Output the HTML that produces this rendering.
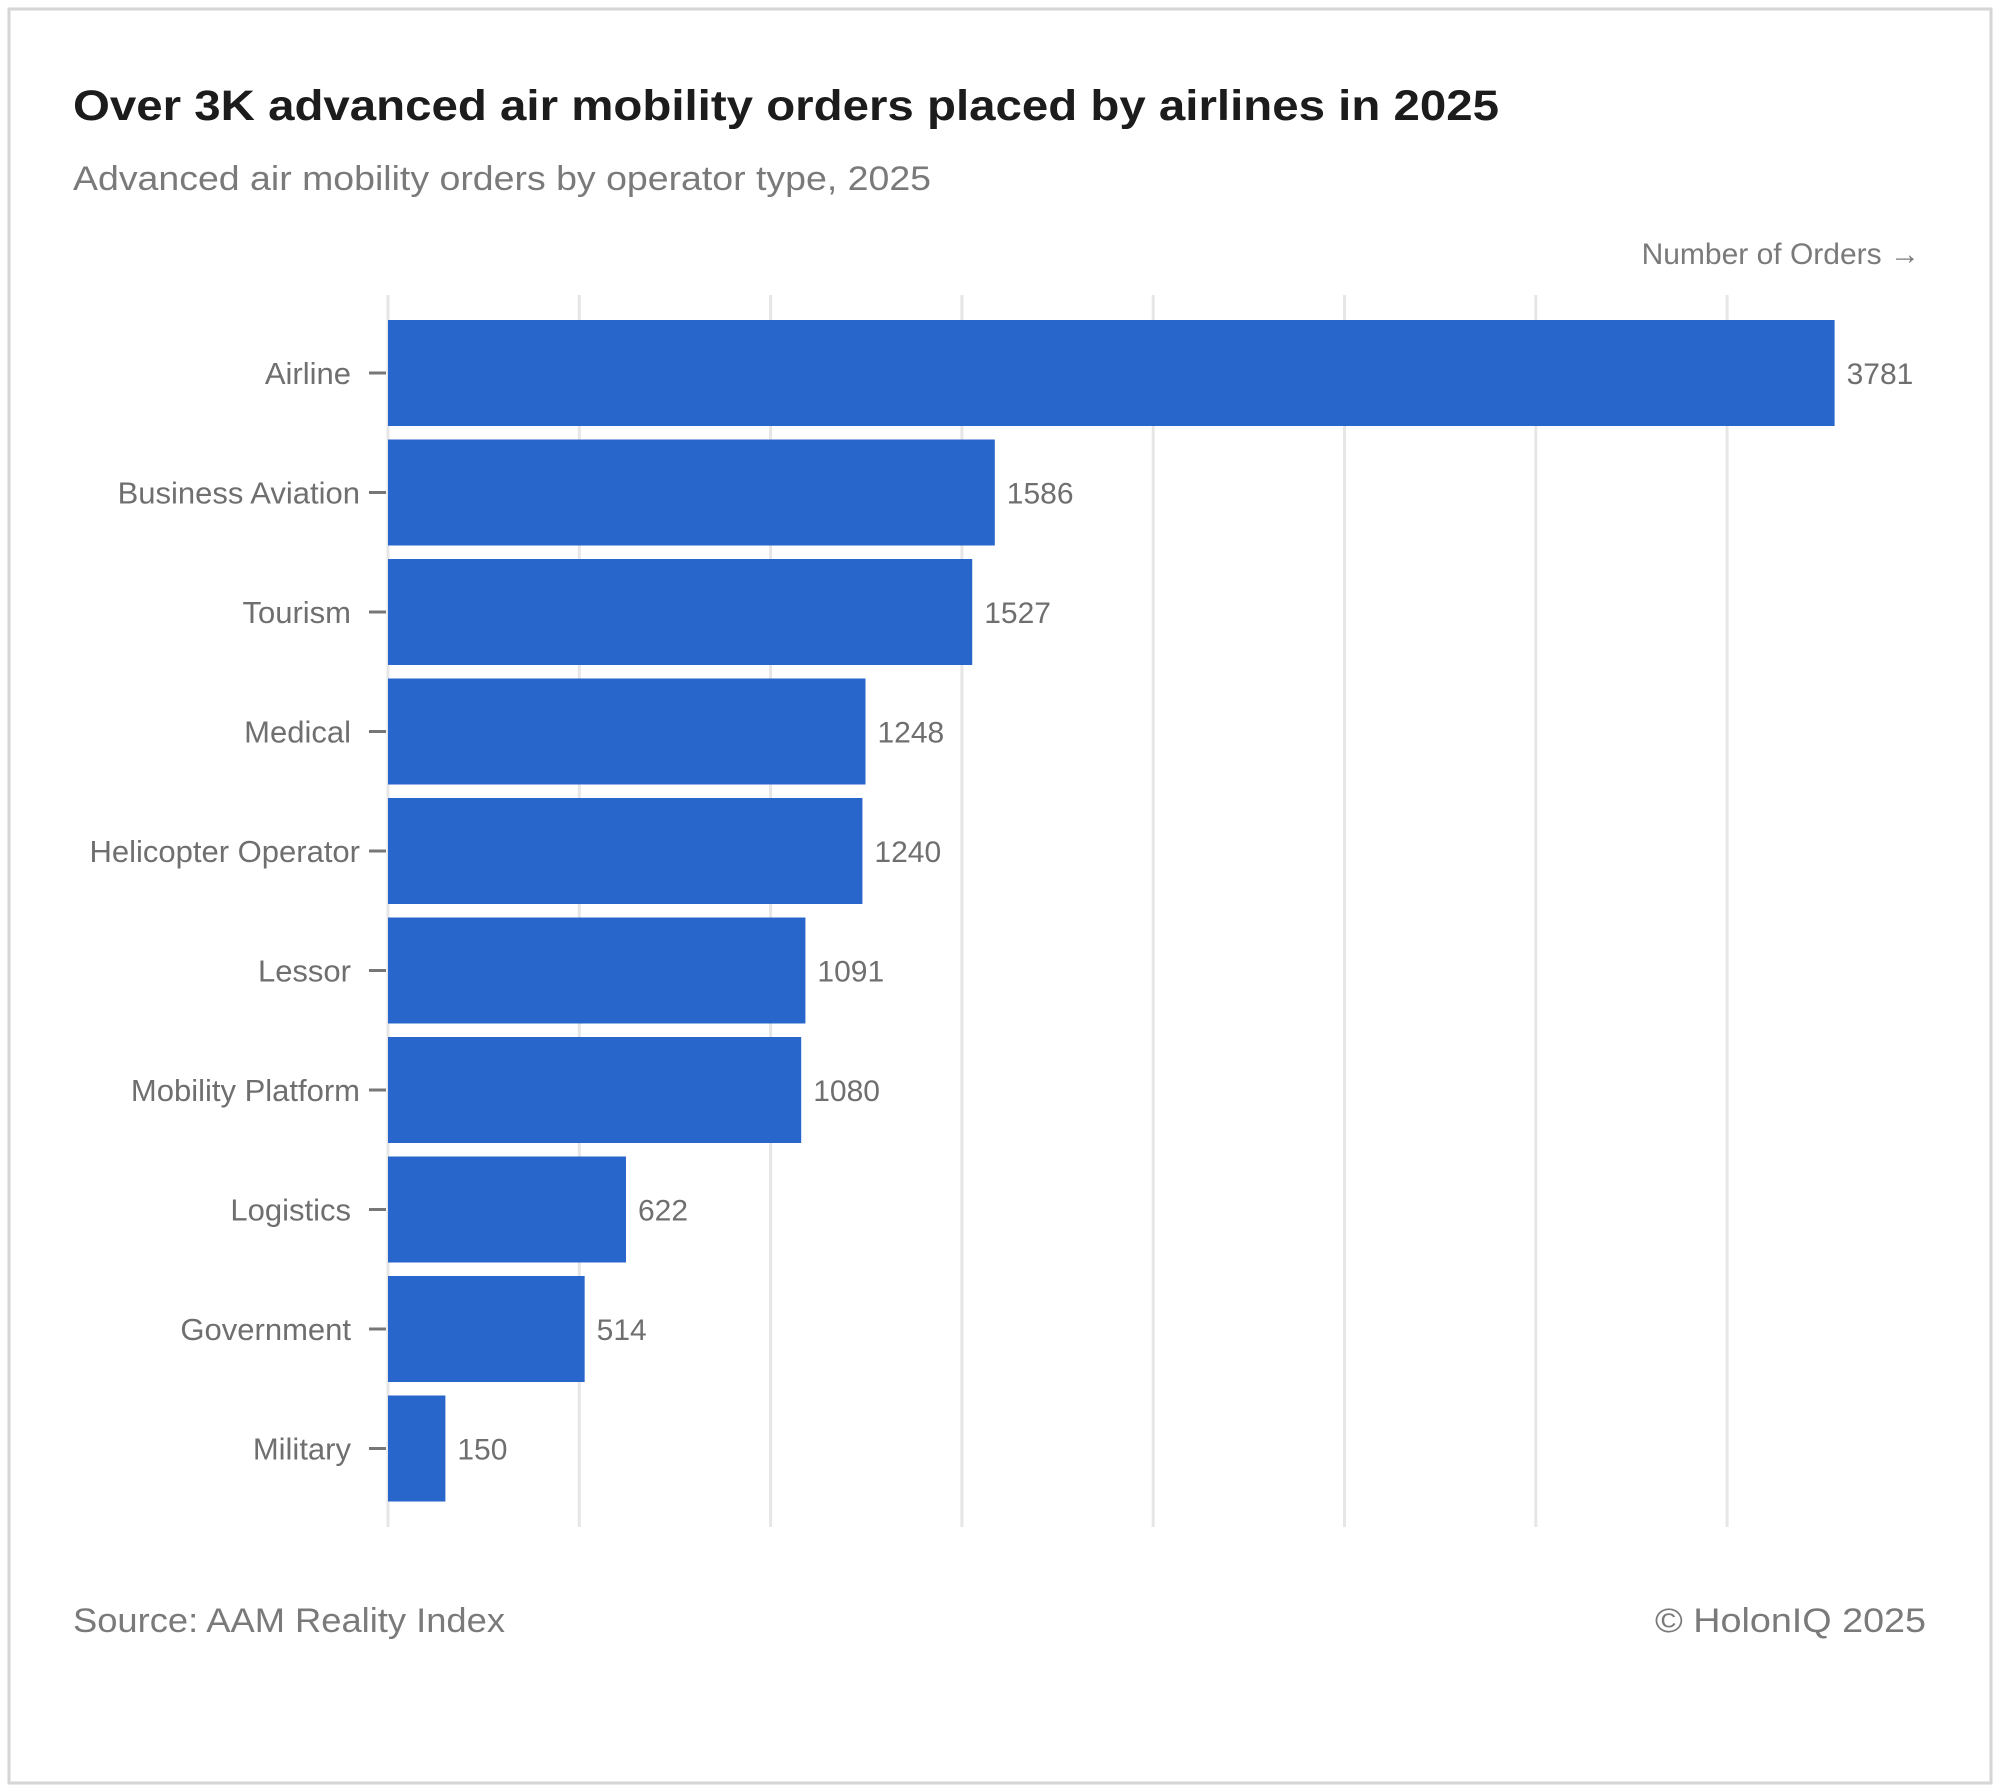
<!DOCTYPE html>
<html><head><meta charset="utf-8"><style>
html,body{margin:0;padding:0;background:#fff}
svg{display:block}
</style></head><body>
<svg id="chart" width="2000" height="1792" viewBox="0 0 2000 1792" xmlns="http://www.w3.org/2000/svg">
<rect x="9" y="9" width="1982" height="1774" fill="#fff" stroke="#d6d6d6" stroke-width="3"/>
<text x="73" y="120" font-family="Liberation Sans, sans-serif" font-size="43" font-weight="bold" fill="#1c1c1c" textLength="1426" lengthAdjust="spacingAndGlyphs">Over 3K advanced air mobility orders placed by airlines in 2025</text>
<text x="73" y="190" font-family="Liberation Sans, sans-serif" font-size="34" fill="#7a7a7a" textLength="858" lengthAdjust="spacingAndGlyphs">Advanced air mobility orders by operator type, 2025</text>
<text x="1920" y="264" text-anchor="end" font-family="Liberation Sans, sans-serif" font-size="30" fill="#7a7a7a">Number of Orders  →</text>
<g id="grid"></g>
<g id="bars"></g>
<g id="ylabels"></g>
<text x="73" y="1632" font-family="Liberation Sans, sans-serif" font-size="34" fill="#7a7a7a" textLength="432" lengthAdjust="spacingAndGlyphs">Source: AAM Reality Index</text>
<text x="1926" y="1632" text-anchor="end" font-family="Liberation Sans, sans-serif" font-size="34" fill="#7a7a7a" textLength="271" lengthAdjust="spacingAndGlyphs">© HolonIQ 2025</text>
</svg>
<script>
const categories = ["Airline","Business Aviation","Tourism","Medical","Helicopter Operator","Lessor","Mobility Platform","Logistics","Government","Military"];
const values = [3781,1586,1527,1248,1240,1091,1080,622,514,150];
const gridTicks = [0,500,1000,1500,2000,2500,3000,3500];

const NS = "http://www.w3.org/2000/svg";
const x0 = 388, pxPerUnit = 191.3/500;
const xScale = v => x0 + v * pxPerUnit;
const bandTop = 320, bandStep = 119.5, barH = 106;
const yScale = i => bandTop + i * bandStep;
const gridTop = 295, gridBottom = 1527;

const grid = document.getElementById('grid');
const bars = document.getElementById('bars');
const ylabels = document.getElementById('ylabels');
function mk(tag, attrs){const e=document.createElementNS(NS,tag);for(const k in attrs)e.setAttribute(k,attrs[k]);return e;}

gridTicks.forEach(t => {
  const l = mk('line',{x1:xScale(t),x2:xScale(t),y1:gridTop,y2:gridBottom,stroke:'#e6e6e6','stroke-width':3});
  
  
  grid.appendChild(l);
});

categories.forEach((c, i) => {
  const y = yScale(i);
  const r = mk('rect',{x:x0,y:y,width:xScale(values[i])-x0,height:barH,fill:'#2966cc'});
  
  
  bars.appendChild(r);
  const v = mk('text',{x:xScale(values[i])+12,y:y+barH/2+11,'font-family':'Liberation Sans, sans-serif','font-size':30,fill:'#6f6f6f'});
  v.textContent = values[i];
  
  
  bars.appendChild(v);
  const tk = mk('line',{x1:369,x2:386,y1:y+barH/2,y2:y+barH/2,stroke:'#777','stroke-width':3});
  
  
  ylabels.appendChild(tk);
  const lb = mk('text',{x:c.length>=17 ? 360 : 351,y:y+barH/2+11,'text-anchor':'end','font-family':'Liberation Sans, sans-serif','font-size':31,fill:'#6f6f6f'});
  lb.textContent = c;
  
  
  ylabels.appendChild(lb);
});
</script>
</body></html>
